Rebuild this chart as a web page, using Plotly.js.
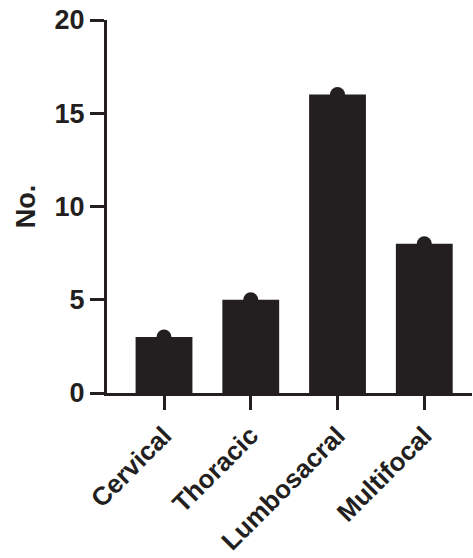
<!DOCTYPE html>
<html><head><meta charset="utf-8">
<script src="https://cdn.plot.ly/plotly-3.0.1.min.js"></script>
<style>html,body{margin:0;padding:0;background:#fff}#chart{width:473px;height:558px}</style>
</head><body><div id="chart"></div>
<script>
const categories = ["Cervical", "Thoracic", "Lumbosacral", "Multifocal"];
const counts = [3, 5, 16, 8];
const yTicks = [0, 5, 10, 15, 20];

const ink = "#231f20";
const font = {family: "Arial, 'Liberation Sans', sans-serif", size: 27, color: ink, weight: "bold"};
const xFont = Object.assign({}, font, {size: 26});

const xIdx = categories.map((c, i) => i);

const data = [
  {type: "bar", x: xIdx, y: counts, width: 0.655, marker: {color: ink, line: {width: 0}}, hoverinfo: "skip"},
  {type: "scatter", mode: "markers", x: xIdx, y: counts, marker: {color: ink, size: 15}, hoverinfo: "skip", cliponaxis: false}
];

const layout = {
  width: 473, height: 558,
  margin: {l: 107, r: 1, t: 20, b: 165},
  showlegend: false,
  plot_bgcolor: "#fff", paper_bgcolor: "#fff",
  font: font,
  xaxis: {
    range: [-0.657, 3.55], tickvals: xIdx, ticktext: categories,
    tickangle: -45, ticks: "outside", ticklen: 14, tickwidth: 3, tickcolor: ink,
    showline: true, linewidth: 3, linecolor: ink, showgrid: false, zeroline: false,
    tickfont: xFont, fixedrange: true
  },
  yaxis: {
    range: [0, 20], tickvals: yTicks, ticks: "outside", ticklen: 14, tickwidth: 3, tickcolor: ink,
    showline: true, linewidth: 3, linecolor: ink, showgrid: false, zeroline: false,
    tickfont: font, fixedrange: true,
    title: {text: "No.", font: font, standoff: 12}
  }
};

Plotly.newPlot("chart", data, layout, {staticPlot: true, displayModeBar: false});
</script></body></html>
